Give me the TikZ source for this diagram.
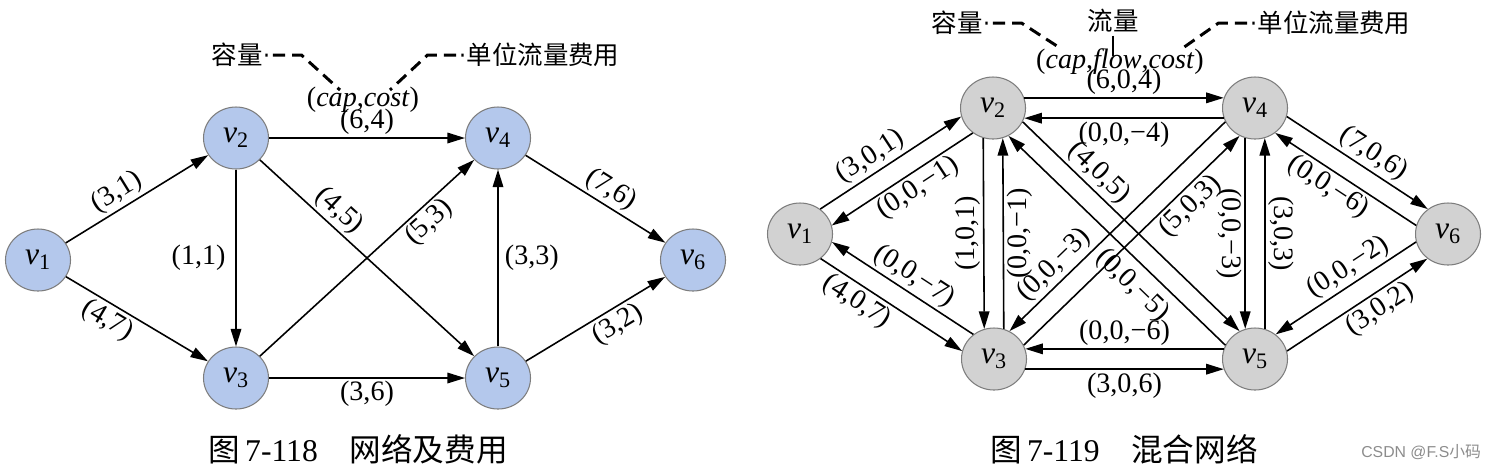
\documentclass[tikz,border=0pt]{standalone}
\usepackage{fontspec}
\setmainfont{Liberation Serif}
\newfontfamily\cjk{Noto Sans CJK SC}
\newfontfamily\wmfont{Liberation Sans}
\usetikzlibrary{arrows.meta,shapes.geometric}

\definecolor{nodeblue}{RGB}{180,200,236}
\definecolor{nodegray}{RGB}{210,210,210}
\definecolor{rimgray}{RGB}{125,125,125}

\newcommand{\vn}[1]{\textit{v}\textsubscript{#1}}

\begin{document}
\begin{tikzpicture}[x=0.2mm, y=-0.2mm,
    every node/.style={font=\fontsize{16}{18}\selectfont, inner sep=1.5pt},
    vtx/.style={ellipse, draw=rimgray, line width=0.6pt, minimum width=13mm,
        minimum height=12.4mm, inner sep=0pt, font=\fontsize{18}{20}\selectfont},
    bluevtx/.style={vtx, fill=nodeblue},
    grayvtx/.style={vtx, fill=nodegray},
    arc/.style={-{Triangle[length=10pt,width=6pt]}, line width=0.9pt},
    note/.style={font=\cjk\fontsize{14.5}{16}\selectfont},
    leader/.style={line width=1.7pt, dash pattern=on 1.2pt off 3pt on 7pt off 4pt
        on 7pt off 4pt on 7pt off 4pt on 7pt off 4pt on 7pt off 4pt}]
    \useasboundingbox (0,0) rectangle (1489,469);

    % network with costs
    \node[bluevtx] (l1) at (38,260) {\vn{1}};
    \node[bluevtx] (l2) at (236,138) {\vn{2}};
    \node[bluevtx] (l3) at (236,378) {\vn{3}};
    \node[bluevtx] (l4) at (498,138) {\vn{4}};
    \node[bluevtx] (l5) at (498,378) {\vn{5}};
    \node[bluevtx] (l6) at (693,260) {\vn{6}};

    \draw[arc] (l1) -- (l2) node[pos=0.42, above, sloped] {(3,1)};
    \draw[arc] (l1) -- (l3) node[pos=0.35, below, sloped] {(4,7)};
    \draw[arc] (l2) -- (l4) node[midway, above] {(6,4)};
    \draw[arc] (l2) -- (l3) node[midway, left=4pt] {(1,1)};
    \draw[arc] (l2) -- (l5) node[pos=0.32, above, sloped] {(4,5)};
    \draw[arc] (l3) -- (l4) node[pos=0.74, below, sloped] {(5,3)};
    \draw[arc] (l5) -- (l4) node[midway, right=2pt] {(3,3)};
    \draw[arc] (l3) -- (l5) node[midway, below] {(3,6)};
    \draw[arc] (l4) -- (l6) node[pos=0.55, above, sloped] {(7,6)};
    \draw[arc] (l5) -- (l6) node[pos=0.6, below, sloped] {(3,2)};

    % legend
    \node[note] (capl) at (237,55) {容量};
    \node[note] (costl) at (543,55) {单位流量费用};
    \node (pairl) at (363,100) {(\textit{cap},\textit{cost})};
    \coordinate (capl end) at (340,90);
    \coordinate (costl end) at (390,90);
    \draw[leader] (capl.east) -- ++(36,0) -- (capl end);
    \draw[leader] (costl.west) -- ++(-36,0) -- (costl end);

    \node[font=\fontsize{18}{20}\selectfont] (figl) at (358,449)
        {{\cjk 图}\,7-118\hspace{1em}{\cjk 网络及费用}};

    % mixed network
    \node[grayvtx] (r1) at (800,234) {\vn{1}};
    \node[grayvtx] (r2) at (993,108) {\vn{2}};
    \node[grayvtx] (r3) at (994,359) {\vn{3}};
    \node[grayvtx] (r4) at (1255,108) {\vn{4}};
    \node[grayvtx] (r5) at (1255,359) {\vn{5}};
    \node[grayvtx] (r6) at (1448,234) {\vn{6}};

    \draw[arc] (r1.51) -- (r2.195) node[pos=0.42, above, sloped] {(3,0,1)};
    \draw[arc] (r2.231) -- (r1.15) node[pos=0.45, below, sloped] {(0,0,−1)};
    \draw[arc] (r3.130) -- (r1.-14) node[pos=0.48, above, sloped] {(0,0,−7)};
    \draw[arc] (r1.-50) -- (r3.166) node[pos=0.32, below, sloped] {(4,0,7)};

    \draw[arc] (r2.18) -- (r4.162) node[midway, above] {(6,0,4)};
    \draw[arc] (r4.198) -- (r2.-18) node[midway, below] {(0,0,−4)};
    \draw[arc] (r5.162) -- (r3.18) node[midway, above] {(0,0,−6)};
    \draw[arc] (r3.-18) -- (r5.198) node[midway, below] {(3,0,6)};

    \draw[arc] (r2.-108) -- (r3.108) node[midway, rotate=90, anchor=south] {(1,0,1)};
    \draw[arc] (r3.72) -- (r2.-72) node[midway, rotate=90, anchor=north] {(0,0,−1)};
    \draw[arc] (r4.-108) -- (r5.108) node[midway, rotate=-90, anchor=north] {(0,0,−3)};
    \draw[arc] (r5.72) -- (r4.-72) node[midway, rotate=-90, anchor=south] {(3,0,3)};

    \draw[arc] (r2.-25) -- (r5.119) node[pos=0.3, above, sloped] {(4,0,5)};
    \draw[arc] (r5.155) -- (r2.-61) node[pos=0.36, below=3pt, sloped] {(0,0,−5)};
    \draw[arc] (r4.205) -- (r3.61) node[pos=0.74, above, sloped] {(0,0,−3)};
    \draw[arc] (r3.25) -- (r4.241) node[pos=0.72, below, sloped] {(5,0,3)};

    \draw[arc] (r4.-15) -- (r6.129) node[pos=0.55, above, sloped] {(7,0,6)};
    \draw[arc] (r6.165) -- (r4.-51) node[pos=0.56, below, sloped] {(0,0,−6)};
    \draw[arc] (r6.194) -- (r5.50) node[pos=0.42, above, sloped] {(0,0,−2)};
    \draw[arc] (r5.14) -- (r6.230) node[pos=0.6, below, sloped] {(3,0,2)};

    % legend
    \node[note] (capr) at (957,23) {容量};
    \node[note] (flowr) at (1113,21) {流量};
    \node[note] (costr) at (1334,23) {单位流量费用};
    \node (pairr) at (1120,62) {(\textit{cap},\textit{flow},\textit{cost})};
    \coordinate (capr end) at (1060,48);
    \coordinate (costr end) at (1180,50);
    \draw[leader] (capr.east) -- ++(36,0) -- (capr end);
    \draw[leader] (costr.west) -- ++(-36,0) -- (costr end);
    \draw[line width=1pt] (flowr.south) -- ++(0,20);

    \node[font=\fontsize{18}{20}\selectfont] (figr) at (1124,449)
        {{\cjk 图}\,7-119\hspace{1em}{\cjk 混合网络}};

    \node[font=\wmfont\fontsize{9}{11}\selectfont, text=black!45, anchor=east] (mark)
        at (1484,452) {CSDN @F.S{\cjk 小码}};
\end{tikzpicture}
\end{document}
